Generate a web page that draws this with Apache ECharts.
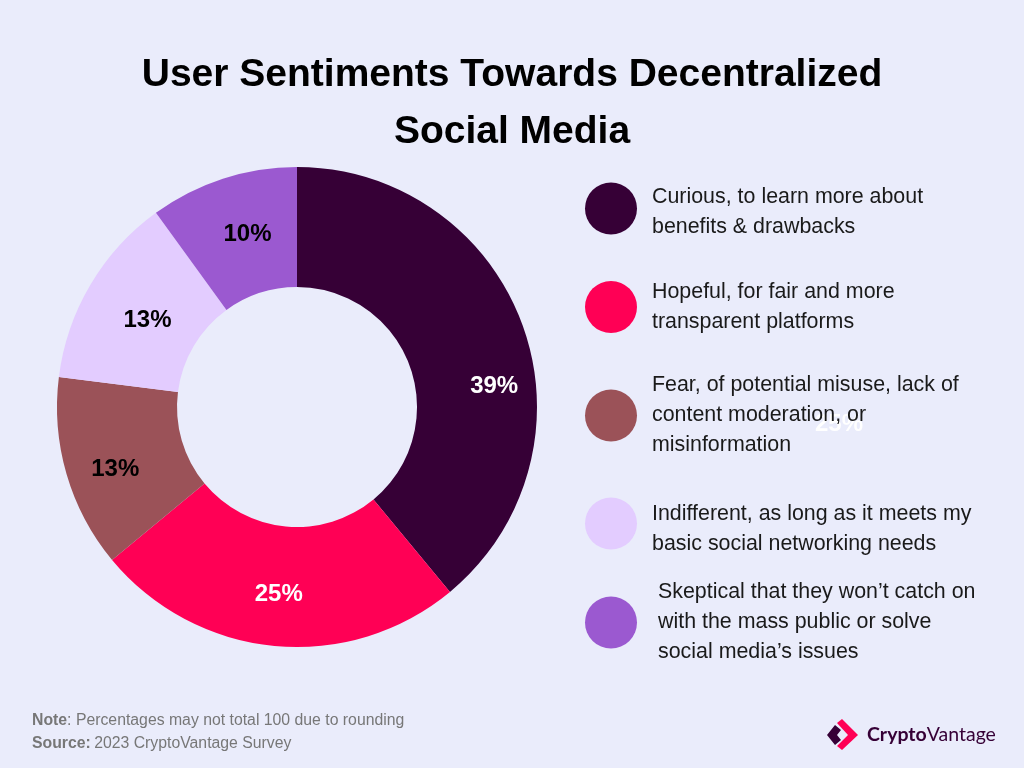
<!DOCTYPE html>
<html>
<head>
	<meta charset="utf-8" />
	<title>User Sentiments Towards Decentralized Social Media</title>
	<script src="https://cdn.jsdelivr.net/npm/echarts@6/dist/echarts.min.js"></script>
	<style>
		html, body { margin: 0; padding: 0; background: #eaecfb; }
		#chart { width: 1024px; height: 768px; }
	</style>
</head>
<body>
	<div id="chart"></div>
	<script type="text/javascript">
		var titleText = 'User Sentiments Towards Decentralized\nSocial Media';
		var categories = [
			'Curious, to learn more about\nbenefits & drawbacks',
			'Hopeful, for fair and more\ntransparent platforms',
			'Fear, of potential misuse, lack of\ncontent moderation, or\nmisinformation',
			'Indifferent, as long as it meets my\nbasic social networking needs',
			'Skeptical that they won\u2019t catch on\nwith the mass public or solve\nsocial media\u2019s issues'
		];
		var shares = [39, 25, 13, 13, 10];

		var colors = ['#360036', '#ff0055', '#9b5258', '#e3ccff', '#9b59d0'];
		var labelColors = ['#ffffff', '#ffffff', '#000000', '#000000', '#000000'];
		// labels sit off the ring's midline in the original
		var labelNudge = [[25, 41], [-1, 5], [-6, 11], [8, 7], [7, 1]];
		var legendTops = [178, 281, 375, 493, 582];
		var legendGaps = [15, 15, 15, 15, 21];
		var legendDrop = [8, 0, 0, 12, 0];

		var font = '"Liberation Sans", Arial, sans-serif';

		var myChart = echarts.init(document.getElementById('chart'), null, { renderer: 'canvas' });

		var noteRich = {
			b: { fontWeight: 'bold', fill: '#777777', fontFamily: font, fontSize: 15.8 },
			n: { fill: '#777777', fontFamily: font, fontSize: 15.8 }
		};

		var option = {
			animation: false,
			backgroundColor: '#eaecfb',
			color: colors,
			title: {
				text: titleText,
				left: 'center',
				top: 42,
				textStyle: { fontFamily: font, fontSize: 39, fontWeight: 'bold', color: '#000000', lineHeight: 57 }
			},
			legend: categories.map(function (name, i) {
				return {
					data: [name],
					left: 585,
					top: legendTops[i],
					icon: 'circle',
					itemWidth: 52,
					itemHeight: 52,
					itemGap: 0,
					padding: 0,
					selectedMode: false,
					itemStyle: { borderWidth: 0 },
					// a thin empty first line pushes the text down against its dot
					formatter: function (n) {
						var lines = n.split('\n').map(function (l) { return '{t|' + l + '}'; });
						if (legendDrop[i]) lines.unshift('{s| }');
						return lines.join('\n');
					},
					textStyle: {
						rich: {
							t: { fontFamily: font, fontSize: 21.4, color: '#1a1a1a', lineHeight: 30, padding: [0, 0, 0, legendGaps[i] - 5] },
							s: { fontSize: 1, lineHeight: legendDrop[i] }
						}
					}
				};
			}),
			series: [{
				type: 'pie',
				center: [297, 407],
				radius: [120, 240],
				startAngle: 90,
				clockwise: true,
				silent: true,
				labelLine: { show: false },
				data: categories.map(function (name, i) {
					return {
						name: name,
						value: shares[i],
						label: {
							show: true,
							position: 'inside',
							formatter: shares[i] + '%',
							offset: labelNudge[i],
							fontFamily: font,
							fontSize: 24,
							fontWeight: 'bold',
							color: labelColors[i],
							textBorderWidth: 0
						}
					};
				})
			}],
			graphic: [
				// stray label left behind the legend text in the original
				{ type: 'text', z: -1, left: 815, top: 412, style: { text: '25%', fill: '#ffffff', font: 'bold 24px ' + font } },
				{ type: 'text', left: 32, top: 713, style: { rich: noteRich, text: '{b|Note}{n|: Percentages may not total 100 due to rounding}' } },
				{ type: 'text', left: 32, top: 736, style: { rich: noteRich, text: '{b|Source:} {n|2023 CryptoVantage Survey}' } },
				// logo mark
				{ type: 'polygon', shape: { points: [[842, 719], [858, 735], [842, 750], [837, 746], [848, 735], [837, 723]] }, style: { fill: '#ff0055' } },
				{ type: 'polygon', shape: { points: [[827, 735], [835, 725], [841, 730], [837, 735], [841, 740], [835, 745]] }, style: { fill: '#360036' } },
				{ type: 'text', left: 867, top: 725, style: { rich: { a: { fill: '#360036', fontFamily: 'Lato, sans-serif', fontSize: 19.5, fontWeight: 'bold' }, c: { fill: '#360036', fontFamily: 'Lato, sans-serif', fontSize: 19.5 } }, text: '{a|Crypto}{c|Vantage}' } }
			]
		};

		myChart.setOption(option);
		window.addEventListener('resize', myChart.resize);
	</script>
</body>
</html>
